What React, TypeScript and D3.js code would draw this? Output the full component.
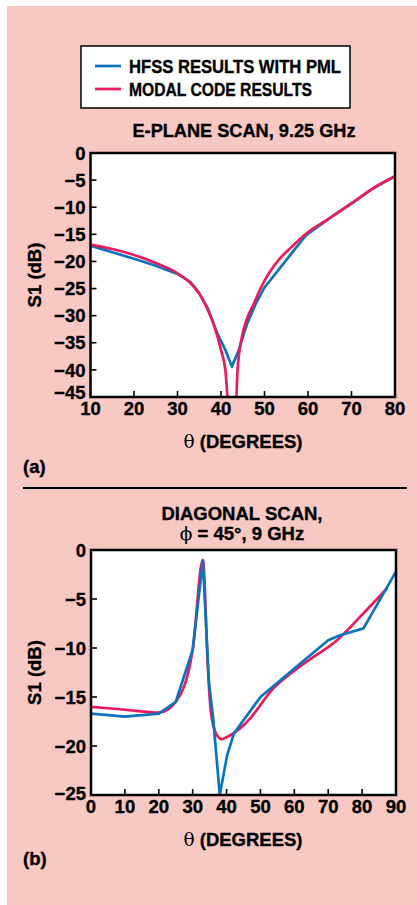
import React from 'react'
import * as d3 from 'd3'

type Pt = [number, number]

// (a) E-plane scan, 9.25 GHz
const eplaneHfss: Pt[] = [
  [10, -17.1], [20, -19.5], [25, -20.8], [30, -22.3], [33, -23.8], [35, -25.9],
  [37, -28.7], [39, -33], [41, -36.3], [42.5, -39.4], [44, -36.5], [46, -31.5],
  [48, -27.8], [50, -24.8], [59.5, -15.2], [65, -12], [70, -9.3],
  [75, -6.5], [80, -4.3]
]
const eplaneModal: Pt[] = [
  [10, -16.9], [15, -17.7], [20, -18.8], [25, -20.3], [30, -22.2], [33, -24],
  [35, -25.9], [37, -29], [38.5, -32], [40, -36.3], [41, -40], [41.8, -47],
  [43.4, -47], [43.8, -40], [44.8, -34], [46, -30.5], [47.6, -27.7], [49.2, -24.8],
  [53.6, -19.4], [56, -17.5], [59.7, -14.8], [65, -12], [70, -9.3],
  [75, -6.5], [80, -4.3]
]

// (b) diagonal scan, phi = 45 deg, 9 GHz
const diagHfss: Pt[] = [
  [0, -16.7], [10, -17], [20, -16.7], [25, -15.5], [30, -10.2], [33, -1.1],
  [34.8, -13.5], [36, -17], [38, -25], [40.2, -20.9], [42.2, -18.7], [50, -15],
  [60, -12.1], [70, -9.2], [73.5, -8.7], [80.4, -8], [90, -2.2]
]
const diagModal: Pt[] = [
  [0, -16], [10, -16.3], [20, -16.6], [25, -15.5], [30, -10.2], [33, -1],
  [34.5, -12], [35.3, -16.3], [37, -18.8], [38.7, -19.3], [40, -19.1],
  [41.6, -18.8], [45.6, -17.7], [53.9, -14.1], [63.6, -11.4], [72.6, -9.2],
  [80, -6.6], [87.4, -3.9]
]

const legendLabels = ['HFSS RESULTS WITH PML', 'MODAL CODE RESULTS']
const eplaneXTicks = [10, 20, 30, 40, 50, 60, 70, 80]
const eplaneYTicks = [0, -5, -10, -15, -20, -25, -30, -35, -40, -45]
const diagXTicks = [0, 10, 20, 30, 40, 50, 60, 70, 80, 90]
const diagYTicks = [0, -5, -10, -15, -20, -25]

const BLUE = '#0b74bd'
const RED = '#eb1a5b'
const PINK = '#f8c8c3'
const FONT = '"Liberation Sans", Arial, sans-serif'
const FS = 18.5

// heavy bold text, a thin stroke makes it closer to the black face in the original
const txt = { fontSize: FS, fontWeight: 'bold' as const, fontFamily: FONT, stroke: '#000', strokeWidth: 0.35 }

const fmt = (v: number) => (v < 0 ? '\u2212' + Math.abs(v) : String(v))

interface PanelProps {
  id: string
  left: number
  right: number
  top: number
  bottom: number
  xDomain: [number, number]
  yDomain: [number, number]
  xTicks: number[]
  yTicks: number[]
  blue: Pt[]
  red: Pt[]
  redOnTop: boolean
  tag: string
  tagY: number
  lowLabelLift: number
}

function Panel(p: PanelProps) {
  const x = d3.scaleLinear().domain(p.xDomain).range([p.left, p.right])
  const y = d3.scaleLinear().domain(p.yDomain).range([p.bottom, p.top])
  const lineRed = d3.line<Pt>().x(d => x(d[0])).y(d => y(d[1])).curve(d3.curveMonotoneX)
  const lineBlue = d3.line<Pt>().x(d => x(d[0])).y(d => y(d[1]))
  const redPath = <path d={lineRed(p.red) || ''} fill="none" stroke={RED} strokeWidth={2.7} strokeLinejoin="round" />
  const bluePath = <path d={lineBlue(p.blue) || ''} fill="none" stroke={BLUE} strokeWidth={2.7} strokeLinejoin="round" />
  const midY = (p.top + p.bottom) / 2
  const yMin = p.yDomain[0]
  return (
    <g>
      <defs>
        <clipPath id={p.id}>
          <rect x={p.left} y={p.top} width={p.right - p.left} height={p.bottom - p.top} />
        </clipPath>
      </defs>
      <rect x={p.left} y={p.top} width={p.right - p.left} height={p.bottom - p.top} fill="#fff" />
      <g clipPath={`url(#${p.id})`}>
        {p.redOnTop ? <>{bluePath}{redPath}</> : <>{redPath}{bluePath}</>}
      </g>
      {p.yTicks.map(t => (
        <g key={'y' + t}>
          <line x1={p.left} x2={p.left + 6} y1={y(t)} y2={y(t)} stroke="#000" strokeWidth={1.6} />
          <text x={p.left - 5} y={y(t) - (t === yMin ? p.lowLabelLift : 0)} dy="0.36em" textAnchor="end" {...txt}>{fmt(t)}</text>
        </g>
      ))}
      {p.xTicks.map(t => (
        <g key={'x' + t}>
          <line x1={x(t)} x2={x(t)} y1={p.bottom} y2={p.bottom - 6} stroke="#000" strokeWidth={1.6} />
          <text x={x(t)} y={p.bottom + 18} textAnchor="middle" {...txt}>{fmt(t)}</text>
        </g>
      ))}
      <rect x={p.left} y={p.top} width={p.right - p.left} height={p.bottom - p.top} fill="none" stroke="#000" strokeWidth={2.5} />
      <text transform={`translate(41,${midY}) rotate(-90)`} textAnchor="middle" {...txt}>S1 (dB)</text>
      <text x={243} y={p.bottom + 51} textAnchor="middle" {...txt}>
        <tspan fontFamily="DejaVu Serif" fontWeight="normal" strokeWidth={0}>θ</tspan> (DEGREES)
      </text>
      <text x={23} y={p.tagY} {...txt}>{p.tag}</text>
    </g>
  )
}

export default function App() {
  return (
    <svg width={417} height={905} style={{ position: 'absolute', left: 0, top: 0 }}>
      <rect x={7} y={6} width={410} height={899} fill={PINK} />
      {/* legend */}
      <rect x={81} y={46} width={269} height={62} fill="#fff" stroke="#000" strokeWidth={1.5} />
      {legendLabels.map((lab, i) => (
        <g key={lab}>
          <line x1={95} x2={121} y1={66 + i * 23} y2={66 + i * 23} stroke={i === 0 ? BLUE : RED} strokeWidth={2.7} />
          <text x={129} y={73 + i * 23} {...txt} textLength={i === 0 ? 212 : 183} lengthAdjust="spacingAndGlyphs">{lab}</text>
        </g>
      ))}
      <text x={244} y={137} textAnchor="middle" {...txt} textLength={223} lengthAdjust="spacingAndGlyphs">E-PLANE SCAN, 9.25 GHz</text>
      <Panel id="clipA" left={90.5} right={395} top={153} bottom={397}
        xDomain={[10, 80]} yDomain={[-45, 0]} xTicks={eplaneXTicks} yTicks={eplaneYTicks}
        blue={eplaneHfss} red={eplaneModal} redOnTop={true} tag="(a)" tagY={473} lowLabelLift={5} />
      <line x1={23} x2={407} y1={488} y2={488} stroke="#000" strokeWidth={2} />
      <text x={242} y={520} textAnchor="middle" {...txt}>DIAGONAL SCAN,</text>
      <text x={242} y={540} textAnchor="middle" {...txt}>
        <tspan fontFamily="DejaVu Serif" fontWeight="normal" strokeWidth={0}>ϕ</tspan> = 45°, 9 GHz
      </text>
      <Panel id="clipB" left={91} right={396} top={550} bottom={795}
        xDomain={[0, 90]} yDomain={[-25, 0]} xTicks={diagXTicks} yTicks={diagYTicks}
        blue={diagHfss} red={diagModal} redOnTop={false} tag="(b)" tagY={865} lowLabelLift={2} />
    </svg>
  )
}
